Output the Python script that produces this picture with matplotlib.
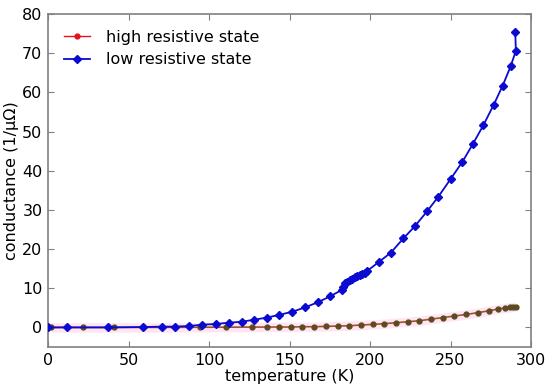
import numpy as np
import matplotlib
matplotlib.use('Agg')
import matplotlib.pyplot as plt

# low resistive state (blue)
t_low = [0, 11.6, 37, 59.2, 70.6, 78.9, 87.8, 95.8, 104.1, 112.2, 120.3, 128.1,
         135.8, 143.7, 151.7, 159.6, 167.5, 175.1, 182.6, 183.5, 184.4, 186,
         187.5, 189, 190.6, 192, 193.7, 195.3, 196.9, 197.9, 205.5, 213, 220.7,
         228, 235.4, 242.5, 250.1, 257.3, 264, 270.4, 276.8, 282.4, 287.3,
         290.6, 290.2]
g_low = [0, 0, 0, 0.1, 0.2, 0.2, 0.36, 0.7, 0.87, 1.2, 1.45, 1.96,
         2.5, 3.2, 4.0, 5.1, 6.4, 7.9, 9.6, 10.4, 11.4, 11.7,
         12.1, 12.4, 12.9, 13.1, 13.4, 13.7, 14.0, 14.3, 16.7, 19.1, 22.7,
         25.9, 29.6, 33.4, 37.9, 42.2, 46.9, 51.6, 56.8, 61.7, 66.6,
         70.6, 75.4]

# high resistive state (red)
t_high = [1.9, 22, 40.8, 59.2, 78.9, 94.4, 110.5, 126.7, 136.2, 143.6,
          150.9, 157.9, 165.2, 172.6, 179.9, 187.1, 194.4, 201.6, 208.9, 216.1,
          223.4, 230.6, 237.8, 245.1, 252.3, 259.6, 266.8, 274.1, 279.6, 283.8,
          286.9, 289, 290.4]
g_high = [0, 0, 0, 0, 0.02, 0.04, 0.06, 0.08, 0.09, 0.1,
          0.1, 0.18, 0.18, 0.26, 0.35, 0.43, 0.6, 0.77, 0.94, 1.2,
          1.45, 1.7, 2.1, 2.5, 2.9, 3.3, 3.75, 4.26, 4.7, 4.95,
          5.1, 5.2, 5.3]

fig = plt.figure(figsize=(5.5, 3.89), dpi=100)
ax = fig.add_axes([48 / 550, 42 / 389, 483 / 550, 333 / 389])

# faint pink band around the high resistive curve
gh = np.array(g_high)
ax.fill_between(t_high, gh - 1.2, gh + 1.2, color='#ff9ad5', alpha=0.25, lw=0)
ax.plot(t_high, g_high, '-', color='#a0522d', lw=1.2, zorder=3)
ax.plot(t_high, g_high, 'o', color='#5c4a20', ms=3.5, mec='#5c4a20', zorder=4)
ax.plot([], [], '-o', color='#e8101e', lw=1, ms=3.5, label='high resistive state')

ax.plot(t_low, g_low, '-D', color='#0a0ad0', lw=1.3, ms=3.8, mec='#0a0ad0',
        zorder=5, label='low resistive state')

ax.set_xlim(0, 300)
ax.set_ylim(-5, 80)
ax.set_xticks(range(0, 301, 50))
ax.set_yticks(range(0, 81, 10))
ax.tick_params(direction='in', top=True, right=True, labelsize=11.5, length=4,
               color='#808080', pad=4)
for sp in ax.spines.values():
    sp.set_color('#808080')
    sp.set_linewidth(1.2)

ax.set_xlabel('temperature (K)', fontsize=11.5, labelpad=1)
ax.set_ylabel('conductance (1/\u03bc\u03a9)', fontsize=11.5, labelpad=2)
ax.legend(loc='upper left', frameon=False, fontsize=11.5, handlelength=1.6,
          handletextpad=1.0, borderaxespad=0.6, labelspacing=0.45)

fig.savefig('out.png', dpi=100)
